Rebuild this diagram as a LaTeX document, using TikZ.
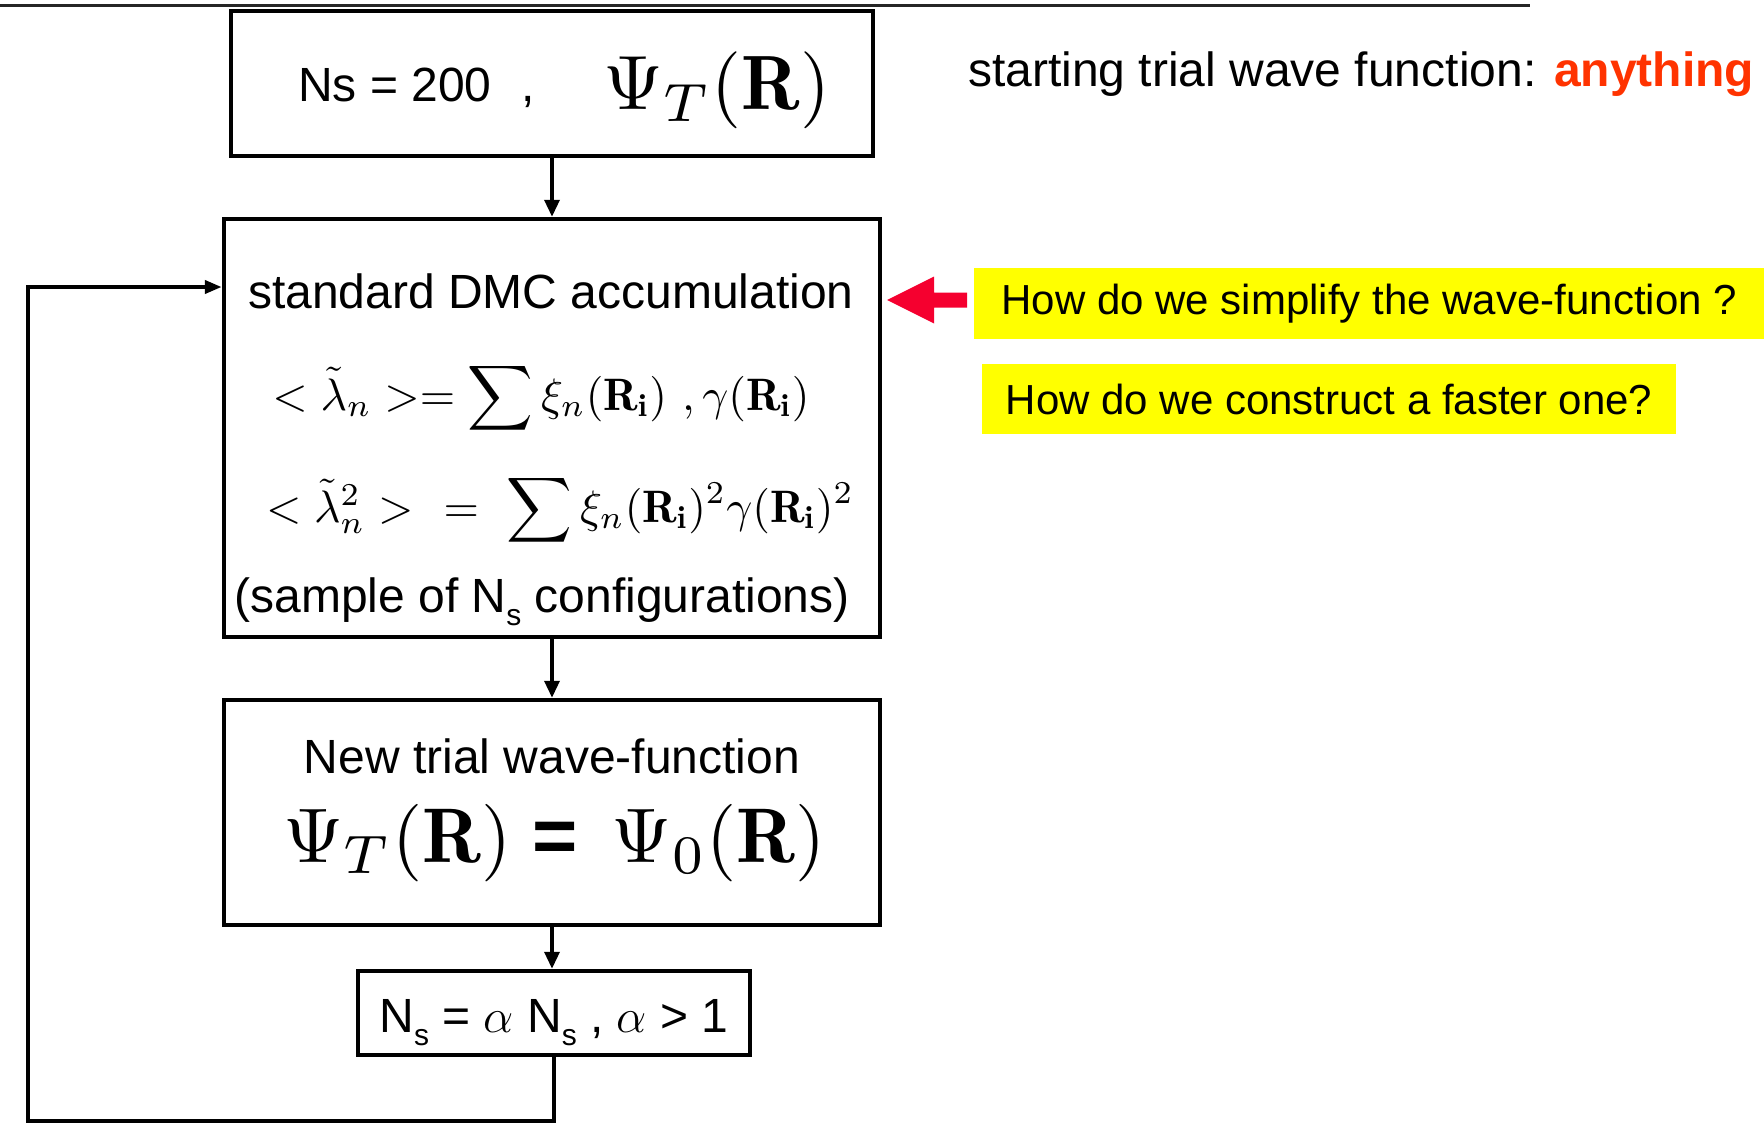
\documentclass[tikz,border=0pt]{standalone}
\usepackage{fix-cm}
\usepackage{graphicx}
\usepackage{fontspec}
\newfontfamily\arial{Liberation Sans}
\usetikzlibrary{arrows.meta}
\definecolor{qyellow}{RGB}{255,255,0}
\definecolor{pred}{RGB}{245,0,47}
\definecolor{anyred}{RGB}{255,51,0}
\newcommand\lowsub[1]{\raisebox{-0.28em}{\fontsize{30}{30}\selectfont #1}}
\newcommand\bigmath[2]{\scalebox{#1}{\fontsize{10}{12}\selectfont #2}}
\tikzset{
 box/.style={draw, line width=4.5pt, inner sep=0pt},
 conn/.style={line width=3.5pt, -{Triangle[length=17pt,width=15pt]}},
 loopline/.style={line width=4pt, -{Triangle[length=17pt,width=13pt]}},
 txt/.style={font=\arial\fontsize{48}{56}\selectfont, inner sep=0pt, anchor=base},
 mth/.style={inner sep=0pt, anchor=base},
 qbox/.style={fill=qyellow, inner xsep=0pt, inner ysep=0pt, font=\arial\fontsize{42}{50}\selectfont},
}
\begin{document}
\begin{tikzpicture}[x=1pt,y=-1pt]
\useasboundingbox (0,0) rectangle (1764,1124);
\draw[line width=3pt, black!85] (0,6) -- (1530,6);

% boxes
\node[box, minimum width=642pt, minimum height=145pt] (b1) at (552,83.5) {};
\node[box, minimum width=656pt, minimum height=418pt] (b2) at (552,428) {};
\node[box, minimum width=656pt, minimum height=225pt] (b3) at (552,812.5) {};
\node[box, minimum width=392pt, minimum height=84pt] (b4) at (554,1013) {};

% box texts
\node[txt, anchor=base west] (ns) at (298,101) {Ns = 200\hspace{30pt},};
\node[mth, anchor=base west] (p1) at (603,110) {\bigmath{7.7}{$\Psi_T(\mathbf{R})$}};

\node[txt] (t2) at (551,308) {standard DMC accumulation};
\node[mth] (e1) at (541,410) {\bigmath{4.55}{$<\tilde{\lambda}_n >=\displaystyle\sum\xi_n(\mathbf{R}_\mathbf{i})\ ,\gamma(\mathbf{R}_\mathbf{i})$}};
\node[mth] (e2) at (560,522) {\bigmath{4.55}{$<\tilde{\lambda}_n^2>\ \ =\ \displaystyle\sum\xi_n(\mathbf{R}_\mathbf{i})^2\gamma(\mathbf{R}_\mathbf{i})^2$}};
\node[txt] (s2) at (542,612) {(sample of N\lowsub{s} configurations)};

\node[txt] (t3) at (552,773) {New trial wave-function};
\node[mth, anchor=base west] (e3) at (283,862) {\bigmath{7.75}{$\Psi_T(\mathbf{R})$\hspace{2.7pt}{\arial\bfseries =}\hspace{4.4pt}$\Psi_0(\mathbf{R})$}};

\node[txt] (t4) at (554,1032) {N\lowsub{s} = $\alpha$ N\lowsub{s} , $\alpha$ > 1};

% connectors
\draw[conn] (b1.south) -- (b2.north);
\draw[conn] (b2.south) -- (b3.north);
\draw[conn] (b3.south) -- (b3.south |- b4.north);
\coordinate (lb) at (28,1121);
\coordinate (lt) at (28,287);
\draw[loopline] (b4.south) |- (lb) -- (lt) -- (lt -| b2.west);

% right side
\node[txt, anchor=base west] (st) at (968,86) {starting trial wave function: {\bfseries\color{anyred}anything}};
\coordinate (rt) at (887,300);
\fill[pred] (rt) -- ++(47,-23.5) -- ++(0,16) -- ++(33,0) -- ++(0,15) -- ++(-33,0) -- ++(0,16) -- cycle;
\node[qbox, anchor=west, minimum width=790pt, minimum height=71pt] (q1) at (974,303.5) {How do we simplify the wave-function ?};
\node[qbox, minimum width=694pt, minimum height=70pt] (q2) at (1329,399) {How do we construct a faster one?};
\end{tikzpicture}
\end{document}
